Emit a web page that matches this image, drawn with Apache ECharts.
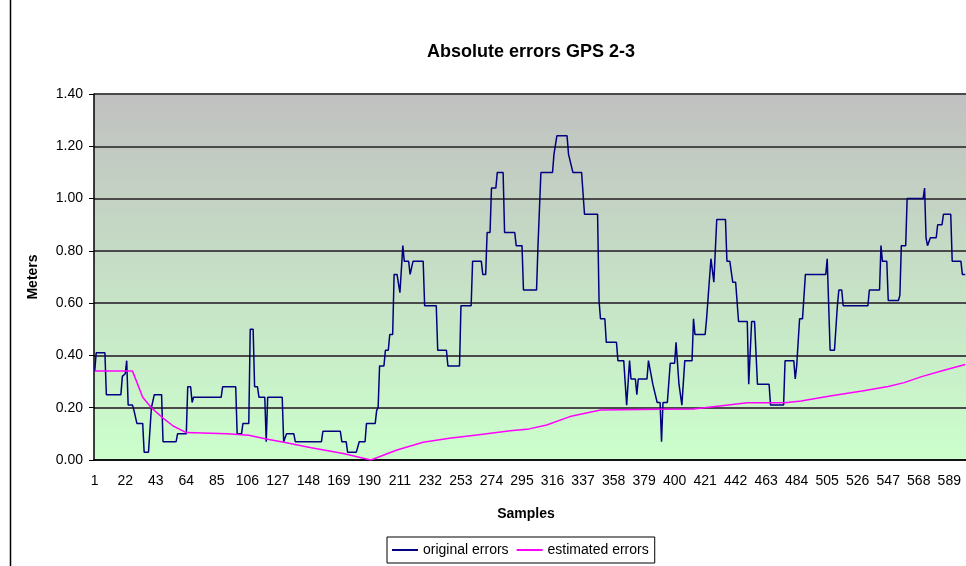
<!DOCTYPE html>
<html>
<head>
<meta charset="utf-8">
<script src="https://cdn.jsdelivr.net/npm/echarts@6/dist/echarts.min.js"></script>
<style>
  html, body { margin: 0; padding: 0; background: #fff; }
  #chart { width: 966px; height: 566px; }
</style>
</head>
<body>
<div id="chart"></div>
<script>
// sample numbers and values where the lines change direction
var origSample = [1, 2, 8, 9, 19, 20, 21, 22, 23, 24, 27, 28, 29, 30, 34, 35, 38, 40, 41, 42, 47, 48, 57, 58, 64, 65, 67, 68, 69, 88, 89, 98, 99, 102, 103, 107, 108, 110, 111, 113, 114, 118, 119, 120, 130, 131, 133, 138, 139, 157, 158, 170, 171, 174, 175, 181, 183, 187, 188, 194, 195, 196, 197, 200, 201, 203, 204, 206, 207, 209, 211, 213, 214, 217, 218, 220, 227, 228, 236, 237, 243, 244, 252, 253, 260, 261, 267, 268, 270, 271, 273, 274, 277, 278, 282, 283, 290, 291, 295, 296, 305, 306, 308, 316, 317, 318, 319, 326, 327, 328, 330, 336, 338, 347, 348, 349, 352, 353, 360, 361, 365, 367, 369, 370, 373, 374, 375, 381, 382, 383, 385, 386, 388, 390, 391, 392, 395, 397, 400, 401, 403, 404, 405, 407, 412, 413, 414, 421, 422, 423, 425, 427, 428, 429, 435, 436, 438, 440, 442, 444, 450, 451, 453, 455, 457, 465, 466, 475, 476, 482, 483, 484, 486, 488, 490, 504, 505, 506, 507, 510, 512, 513, 515, 516, 533, 534, 541, 542, 543, 546, 547, 554, 555, 556, 559, 560, 571, 572, 573, 574, 575, 576, 580, 581, 584, 585, 590, 591, 597, 598, 600];
var origValue = [0.34, 0.41, 0.41, 0.25, 0.25, 0.32, 0.32, 0.33, 0.38, 0.21, 0.21, 0.19, 0.19, 0.14, 0.14, 0.03, 0.03, 0.20, 0.20, 0.25, 0.25, 0.07, 0.07, 0.10, 0.10, 0.28, 0.28, 0.22, 0.24, 0.24, 0.28, 0.28, 0.10, 0.10, 0.14, 0.14, 0.50, 0.50, 0.28, 0.28, 0.24, 0.24, 0.07, 0.24, 0.24, 0.07, 0.10, 0.10, 0.07, 0.07, 0.11, 0.11, 0.07, 0.07, 0.03, 0.03, 0.07, 0.07, 0.14, 0.14, 0.19, 0.20, 0.36, 0.36, 0.42, 0.42, 0.48, 0.48, 0.71, 0.71, 0.64, 0.82, 0.76, 0.76, 0.71, 0.76, 0.76, 0.59, 0.59, 0.42, 0.42, 0.36, 0.36, 0.59, 0.59, 0.76, 0.76, 0.71, 0.71, 0.87, 0.87, 1.04, 1.04, 1.10, 1.10, 0.87, 0.87, 0.82, 0.82, 0.65, 0.65, 0.82, 1.10, 1.10, 1.17, 1.17, 1.24, 1.24, 1.17, 1.17, 1.10, 1.10, 0.94, 0.94, 0.61, 0.54, 0.54, 0.45, 0.45, 0.38, 0.38, 0.21, 0.38, 0.31, 0.31, 0.25, 0.31, 0.31, 0.38, 0.38, 0.29, 0.29, 0.22, 0.22, 0.07, 0.22, 0.22, 0.37, 0.37, 0.45, 0.29, 0.29, 0.21, 0.38, 0.38, 0.54, 0.48, 0.48, 0.54, 0.54, 0.77, 0.68, 0.68, 0.92, 0.92, 0.76, 0.76, 0.68, 0.68, 0.53, 0.53, 0.29, 0.53, 0.53, 0.29, 0.29, 0.21, 0.21, 0.38, 0.38, 0.31, 0.36, 0.54, 0.54, 0.71, 0.71, 0.77, 0.77, 0.42, 0.42, 0.59, 0.65, 0.65, 0.59, 0.59, 0.65, 0.65, 0.82, 0.76, 0.76, 0.61, 0.61, 0.63, 0.82, 0.82, 1.00, 1.00, 1.04, 0.85, 0.82, 0.82, 0.85, 0.85, 0.90, 0.90, 0.94, 0.94, 0.76, 0.76, 0.71, 0.71];

var estSample = [1, 27, 34, 40, 48, 55, 64, 92, 107, 119, 133, 150, 172, 191, 209, 227, 245, 264, 287, 300, 312, 328, 349, 390, 413, 431, 450, 476, 487, 508, 529, 547, 558, 570, 586, 600];
var estValue = [0.34, 0.34, 0.24, 0.20, 0.16, 0.13, 0.105, 0.10, 0.095, 0.08, 0.066, 0.047, 0.025, 0.00, 0.038, 0.068, 0.083, 0.096, 0.112, 0.119, 0.134, 0.166, 0.191, 0.194, 0.195, 0.207, 0.219, 0.219, 0.226, 0.246, 0.264, 0.281, 0.296, 0.319, 0.344, 0.365];

var sampleCount = 600;
var samples = [];
for (var i = 1; i <= sampleCount; i++) samples.push(String(i));

function toPoints(xs, ys) {
    return xs.map(function (s, i) { return [s - 1, ys[i]]; });
}

var font = 'Liberation Sans, Arial, sans-serif';
var myChart = echarts.init(document.getElementById('chart'));
myChart.setOption({
    animation: false,
    backgroundColor: '#fff',
    textStyle: { fontFamily: font },
    title: [{
        text: 'Absolute errors GPS 2-3',
        left: 526,
        top: 38,
        textAlign: 'center',
        textStyle: { fontSize: 18, fontWeight: 'bold', color: '#000', fontFamily: font }
    }, {
        text: 'Samples',
        left: 521,
        top: 502,
        textAlign: 'center',
        textStyle: { fontSize: 14, fontWeight: 'bold', color: '#000', fontFamily: font }
    }],
    legend: {
        left: 387,
        top: 537,
        padding: [6, 6, 6, 5],
        borderColor: '#000',
        borderWidth: 1,
        itemWidth: 26,
        itemHeight: 2,
        itemGap: 8,
        icon: 'rect',
        textStyle: { fontSize: 14, color: '#000', fontFamily: font },
        data: ['original errors', 'estimated errors']
    },
    grid: {
        left: 94,
        right: 0,
        top: 94,
        bottom: 106,
        show: true,
        borderWidth: 0,
        backgroundColor: new echarts.graphic.LinearGradient(0, 0, 0, 1, [
            { offset: 0, color: '#c0c0c0' },
            { offset: 1, color: '#ccffcc' }
        ])
    },
    xAxis: {
        type: 'category',
        data: samples,
        boundaryGap: true,
        axisLine: { lineStyle: { color: '#000', width: 1.5 } },
        axisTick: { interval: 0, length: 5, lineStyle: { color: '#000', width: 1 } },
        axisLabel: { interval: 20, fontSize: 14, color: '#000', margin: 14, fontFamily: font },
        splitLine: { show: false }
    },
    yAxis: {
        type: 'value',
        min: 0,
        max: 1.4,
        interval: 0.2,
        name: 'Meters',
        nameLocation: 'middle',
        nameGap: 54,
        nameTextStyle: { fontSize: 14, fontWeight: 'bold', color: '#000', fontFamily: font },
        axisLine: { show: true, lineStyle: { color: '#000', width: 1.5 } },
        axisTick: { show: true, length: 5, lineStyle: { color: '#000' } },
        axisLabel: {
            fontSize: 14, color: '#000', margin: 11, fontFamily: font,
            formatter: function (v) { return v.toFixed(2); }
        },
        splitLine: { lineStyle: { color: '#4a4a4a', width: 2 } }
    },
    series: [{
        name: 'original errors',
        type: 'line',
        showSymbol: false,
        symbol: 'none',
        lineStyle: { color: '#000080', width: 1.5 },
        itemStyle: { color: '#000080' },
        data: toPoints(origSample, origValue)
    }, {
        name: 'estimated errors',
        type: 'line',
        showSymbol: false,
        symbol: 'none',
        lineStyle: { color: '#ff00ff', width: 1.5 },
        itemStyle: { color: '#ff00ff' },
        data: toPoints(estSample, estValue)
    }],
    graphic: [{
        type: 'line',
        shape: { x1: 10.5, y1: 0, x2: 10.5, y2: 566 },
        style: { stroke: '#000', lineWidth: 1.5 },
        silent: true
    }]
});
</script>
</body>
</html>
